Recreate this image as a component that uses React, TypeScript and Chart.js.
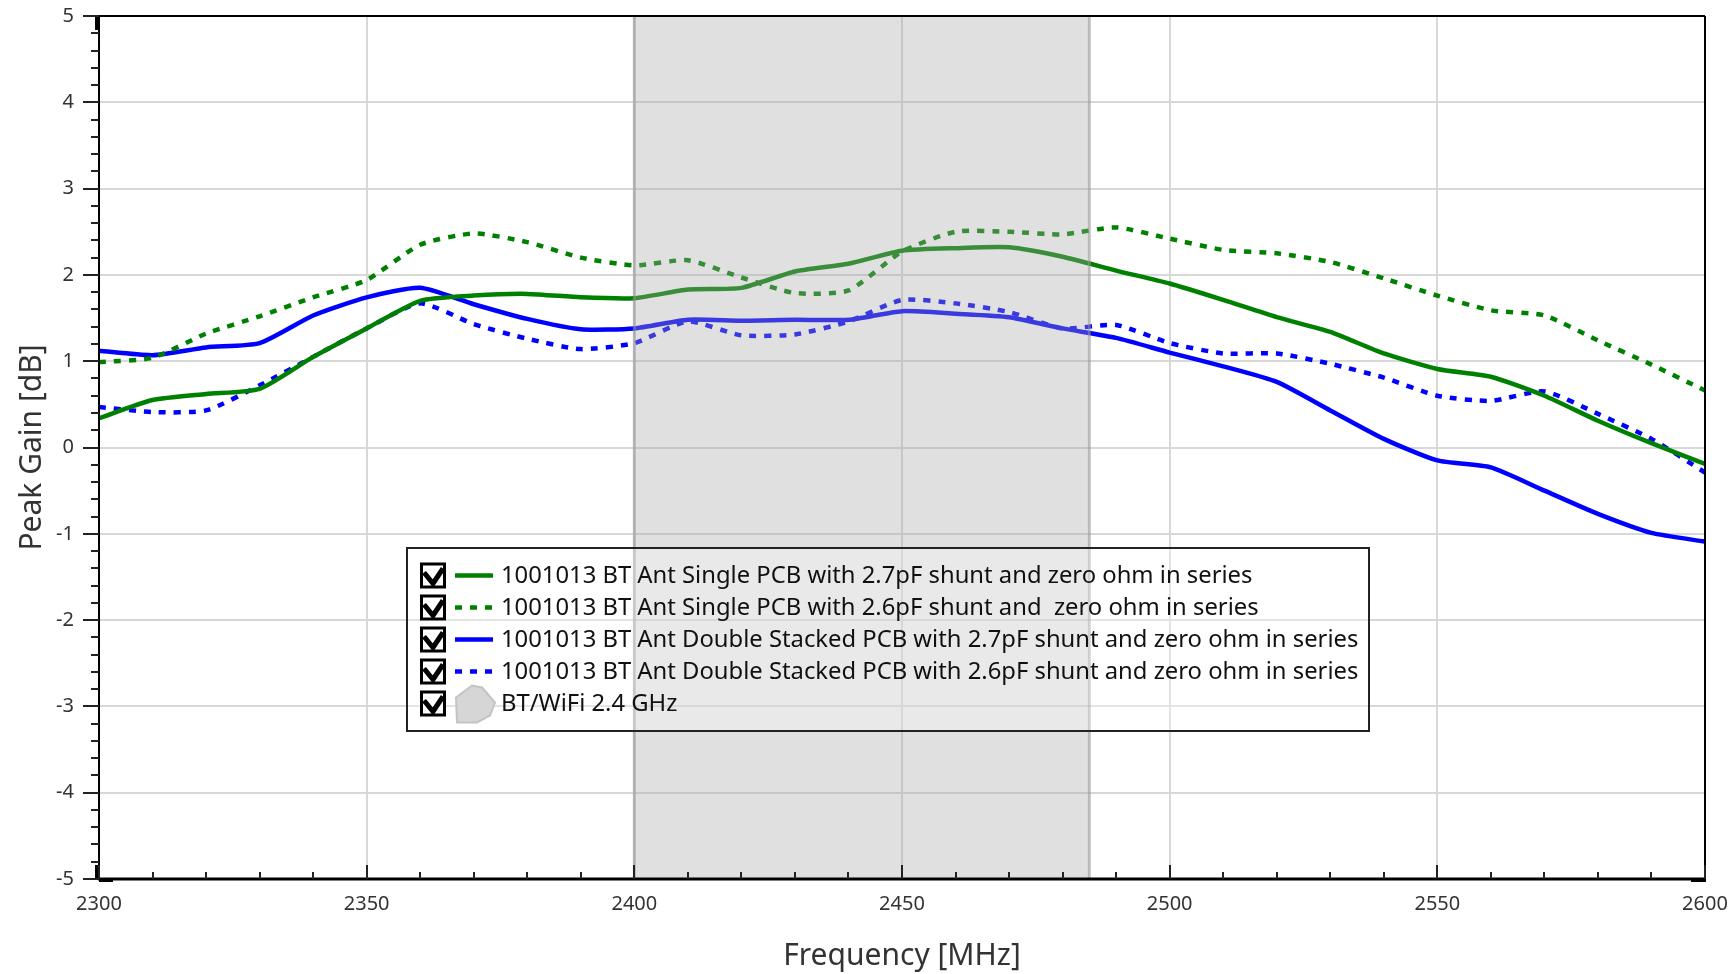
import React, { useEffect, useRef } from 'react';
import { Chart, registerables } from 'chart.js';

Chart.register(...registerables);

const FREQUENCIES = [2300, 2310, 2320, 2330, 2340, 2350, 2360, 2370, 2380, 2390, 2400, 2410, 2420, 2430, 2440, 2450, 2460, 2470, 2480, 2490, 2500, 2510, 2520, 2530, 2540, 2550, 2560, 2570, 2580, 2590, 2600];

const SINGLE_27PF = [0.34, 0.55, 0.62, 0.68, 1.05, 1.38, 1.70, 1.76, 1.78, 1.74, 1.73, 1.83, 1.85, 2.04, 2.13, 2.28, 2.31, 2.32, 2.21, 2.05, 1.90, 1.71, 1.51, 1.34, 1.09, 0.91, 0.82, 0.60, 0.31, 0.05, -0.19];
const SINGLE_26PF = [0.99, 1.04, 1.32, 1.52, 1.74, 1.94, 2.35, 2.48, 2.38, 2.20, 2.11, 2.17, 1.97, 1.79, 1.82, 2.27, 2.50, 2.50, 2.47, 2.55, 2.42, 2.29, 2.25, 2.15, 1.96, 1.76, 1.59, 1.53, 1.24, 0.96, 0.66];
const DOUBLE_27PF = [1.12, 1.07, 1.16, 1.21, 1.53, 1.74, 1.85, 1.66, 1.49, 1.37, 1.38, 1.48, 1.47, 1.48, 1.48, 1.58, 1.55, 1.51, 1.38, 1.27, 1.10, 0.94, 0.76, 0.43, 0.10, -0.15, -0.23, -0.50, -0.77, -0.99, -1.09];
const DOUBLE_26PF = [0.47, 0.41, 0.43, 0.72, 1.05, 1.38, 1.67, 1.43, 1.26, 1.14, 1.21, 1.46, 1.30, 1.31, 1.46, 1.71, 1.67, 1.57, 1.38, 1.42, 1.21, 1.09, 1.09, 0.97, 0.81, 0.60, 0.54, 0.65, 0.39, 0.10, -0.29];

const BAND_RANGE = [2400, 2485];

const SERIES_LABELS = [
  '1001013 BT Ant Single PCB with 2.7pF shunt and zero ohm in series',
  '1001013 BT Ant Single PCB with 2.6pF shunt and  zero ohm in series',
  '1001013 BT Ant Double Stacked PCB with 2.7pF shunt and zero ohm in series',
  '1001013 BT Ant Double Stacked PCB with 2.6pF shunt and zero ohm in series',
];
const BAND_LABEL = 'BT/WiFi 2.4 GHz';

const X_TITLE = 'Frequency [MHz]';
const Y_TITLE = 'Peak Gain [dB]';

const X_MIN = 2300;
const X_MAX = 2600;
const Y_MIN = -5;
const Y_MAX = 5;

const GREEN = '#008000';
const BLUE = '#0000ff';
const FONT = '"Noto Sans", "Open Sans", sans-serif';
const DASH = [7, 8];

const W = 1735;
const H = 974;

function drawCheckbox(ctx: CanvasRenderingContext2D, x: number, cy: number) {
  const s = 26;
  const y = cy - s / 2;
  ctx.save();
  ctx.fillStyle = '#ffffff';
  ctx.fillRect(x, y, s, s);
  ctx.strokeStyle = '#000000';
  ctx.lineWidth = 3;
  ctx.strokeRect(x + 1.5, y + 1.5, s - 3, s - 3);
  ctx.lineWidth = 5;
  ctx.lineJoin = 'miter';
  ctx.beginPath();
  ctx.moveTo(x + 4, y + 10);
  ctx.lineTo(x + 13, y + 21);
  ctx.lineTo(x + 23, y + 6);
  ctx.stroke();
  ctx.restore();
}

const decorPlugin = {
  id: 'decor',
  afterDatasetsDraw(chart: any) {
    const ctx: CanvasRenderingContext2D = chart.ctx;
    const xs = chart.scales.x;
    const ys = chart.scales.y;
    const { left, right, top, bottom } = chart.chartArea;

    // band overlay
    const bx0 = xs.getPixelForValue(BAND_RANGE[0]);
    const bx1 = xs.getPixelForValue(BAND_RANGE[1]);
    ctx.save();
    ctx.fillStyle = 'rgba(166,166,166,0.35)';
    ctx.fillRect(bx0, top, bx1 - bx0, bottom - top);
    ctx.strokeStyle = 'rgba(150,150,150,0.55)';
    ctx.lineWidth = 3;
    ctx.beginPath();
    ctx.moveTo(bx0, top);
    ctx.lineTo(bx0, bottom);
    ctx.moveTo(bx1, top);
    ctx.lineTo(bx1, bottom);
    ctx.stroke();
    ctx.restore();

    // frame
    ctx.save();
    ctx.strokeStyle = '#000000';
    ctx.lineWidth = 2;
    ctx.beginPath();
    ctx.moveTo(left, top);
    ctx.lineTo(right, top);
    ctx.moveTo(right, top);
    ctx.lineTo(right, bottom);
    ctx.moveTo(left, top);
    ctx.lineTo(left, bottom);
    ctx.stroke();
    ctx.lineWidth = 3;
    ctx.beginPath();
    ctx.moveTo(left - 1, bottom);
    ctx.lineTo(right + 1, bottom);
    ctx.stroke();
    // small heavy corner marks
    ctx.fillStyle = '#000000';
    ctx.fillRect(left - 4, top, 5, 14);
    ctx.fillRect(left - 4, bottom - 14, 5, 14);
    ctx.fillRect(left, bottom - 1, 14, 4);
    ctx.fillRect(right - 14, bottom - 1, 15, 4);

    // y ticks (outward)
    ctx.lineWidth = 2;
    ctx.strokeStyle = '#222222';
    ctx.beginPath();
    for (let i = 0; i <= 50; i++) {
      const v = Y_MIN + i * 0.2;
      const py = Math.round(ys.getPixelForValue(v));
      const len = i % 5 === 0 ? 16 : 8;
      ctx.moveTo(left - len, py);
      ctx.lineTo(left, py);
    }
    ctx.stroke();
    // x ticks (inward)
    ctx.beginPath();
    for (let f = X_MIN; f <= X_MAX; f += 10) {
      const px = Math.round(xs.getPixelForValue(f));
      const len = (f - X_MIN) % 50 === 0 ? 14 : 7;
      ctx.moveTo(px, bottom);
      ctx.lineTo(px, bottom - len);
    }
    ctx.stroke();
    ctx.restore();

    // axis titles
    ctx.save();
    ctx.fillStyle = '#333333';
    ctx.font = `30px ${FONT}`;
    ctx.textAlign = 'center';
    ctx.textBaseline = 'middle';
    ctx.fillText(X_TITLE, (left + right) / 2, 956);
    ctx.translate(32, (top + bottom) / 2);
    ctx.rotate(-Math.PI / 2);
    ctx.fillText(Y_TITLE, 0, 0);
    ctx.restore();

    // legend
    const lx = 407;
    const ly = 548;
    const lw = 962;
    const lh = 183;
    ctx.save();
    ctx.fillStyle = 'rgba(255,255,255,0.3)';
    ctx.fillRect(lx, ly, lw, lh);
    ctx.strokeStyle = '#222222';
    ctx.lineWidth = 2;
    ctx.strokeRect(lx, ly, lw, lh);
    const rowY = [575.5, 607.5, 639.5, 671.5, 703.5];
    const colors = [GREEN, GREEN, BLUE, BLUE];
    const dashed = [false, true, false, true];
    ctx.font = `23.8px ${FONT}`;
    ctx.textBaseline = 'middle';
    ctx.textAlign = 'left';
    for (let i = 0; i < 5; i++) {
      const cy = rowY[i];
      drawCheckbox(ctx, 420, cy);
      if (i < 4) {
        ctx.save();
        ctx.strokeStyle = colors[i];
        ctx.lineWidth = 4.5;
        ctx.setLineDash(dashed[i] ? DASH : []);
        ctx.beginPath();
        ctx.moveTo(455, cy);
        ctx.lineTo(493, cy);
        ctx.stroke();
        ctx.restore();
        ctx.fillStyle = '#111111';
        ctx.fillText(SERIES_LABELS[i], 501, cy + 1);
      } else {
        ctx.save();
        ctx.fillStyle = '#d6d6d6';
        ctx.strokeStyle = '#c4c4c4';
        ctx.lineWidth = 2;
        ctx.beginPath();
        ctx.moveTo(456, cy - 6);
        ctx.lineTo(472, cy - 18);
        ctx.lineTo(482, cy - 16);
        ctx.lineTo(495, cy - 1);
        ctx.lineTo(490, cy + 12);
        ctx.lineTo(477, cy + 19);
        ctx.lineTo(457, cy + 19);
        ctx.closePath();
        ctx.fill();
        ctx.stroke();
        ctx.restore();
        ctx.fillStyle = '#111111';
        ctx.fillText(BAND_LABEL, 501, cy + 1);
      }
    }
    ctx.restore();
  },
};

export default function App() {
  const canvasRef = useRef<HTMLCanvasElement | null>(null);

  useEffect(() => {
    document.body.style.margin = '0';
    const canvas = canvasRef.current;
    if (!canvas) return;
    const mk = (label: string, data: number[], color: string, dash: boolean) => ({
      label,
      data: FREQUENCIES.map((f, i) => ({ x: f, y: data[i] })),
      borderColor: color,
      backgroundColor: color,
      borderWidth: 4.5,
      borderDash: dash ? DASH : [],
      pointRadius: 0,
      tension: 0.2,
      fill: false,
    });
    const chart = new Chart(canvas, {
      type: 'line',
      data: {
        datasets: [
          mk(SERIES_LABELS[0], SINGLE_27PF, GREEN, false),
          mk(SERIES_LABELS[1], SINGLE_26PF, GREEN, true),
          mk(SERIES_LABELS[2], DOUBLE_27PF, BLUE, false),
          mk(SERIES_LABELS[3], DOUBLE_26PF, BLUE, true),
        ],
      },
      options: {
        responsive: false,
        animation: false,
        devicePixelRatio: 1,
        layout: { padding: { left: 0, top: 16, right: 30, bottom: 0 } },
        plugins: { legend: { display: false }, tooltip: { enabled: false } },
        scales: {
          x: {
            type: 'linear',
            min: X_MIN,
            max: X_MAX,
            border: { display: false },
            grid: { color: '#d8d8d8', lineWidth: 2, drawTicks: true, tickLength: 13, tickColor: 'rgba(0,0,0,0)' },
            ticks: {
              stepSize: 50,
              padding: 0,
              color: '#333333',
              font: { family: FONT, size: 20 },
              maxRotation: 0,
              callback: (v: any) => String(v),
            },
            afterFit: (s: any) => {
              s.height = 95;
            },
          },
          y: {
            type: 'linear',
            min: Y_MIN,
            max: Y_MAX,
            border: { display: false },
            grid: { color: '#d8d8d8', lineWidth: 2, drawTicks: true, tickLength: 25, tickColor: 'rgba(0,0,0,0)' },
            ticks: {
              stepSize: 1,
              padding: 0,
              color: '#333333',
              font: { family: FONT, size: 20 },
            },
            afterFit: (s: any) => {
              s.width = 99;
            },
          },
        },
      },
      plugins: [decorPlugin],
    });
    return () => chart.destroy();
  }, []);

  return (
    <div style={{ position: 'absolute', left: 0, top: 0, width: W, height: H, background: '#ffffff' }}>
      <canvas ref={canvasRef} width={W} height={H} style={{ width: W, height: H, display: 'block' }} />
    </div>
  );
}
